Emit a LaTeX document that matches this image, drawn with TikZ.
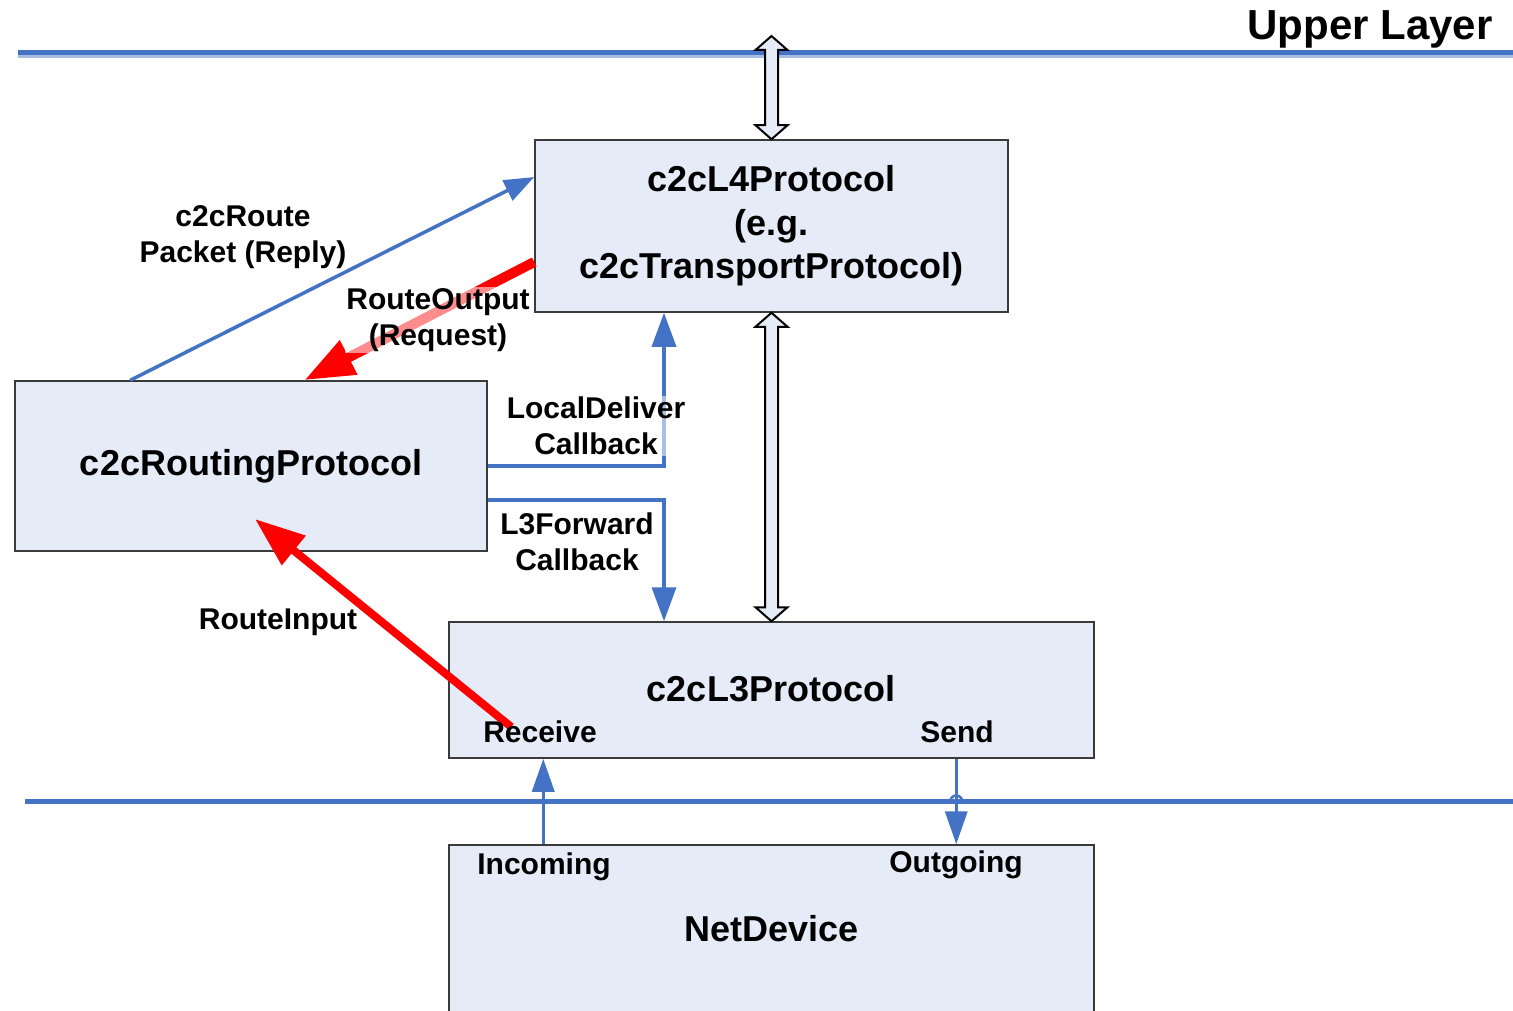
\documentclass[tikz,border=0pt]{standalone}
\usepackage{fontspec}
\setmainfont{Liberation Sans}
\usetikzlibrary{arrows.meta,calc}
\definecolor{boxfill}{HTML}{E6ECF7}
\definecolor{lineblue}{HTML}{4472C4}
\definecolor{lineblue2}{HTML}{A7BCE2}
\definecolor{boxedge}{HTML}{3A3A3A}

% hollow double-headed arrow between two points on a vertical line
\newcommand\hollowdarrow[2]{%
  \filldraw[hollow] let \p1=(#1), \p2=(#2) in
    (\x1,\y1) -- (\x1+16pt,\y1-14pt) -- (\x1+6.5pt,\y1-14pt) --
    (\x1+6.5pt,\y2+14pt) -- (\x1+16pt,\y2+14pt) -- (\x1,\y2) --
    (\x1-16pt,\y2+14pt) -- (\x1-6.5pt,\y2+14pt) --
    (\x1-6.5pt,\y1-14pt) -- (\x1-16pt,\y1-14pt) -- cycle;}

\begin{document}
\begin{tikzpicture}[x=1pt,y=-1pt,
  box/.style={draw=boxedge, line width=1.5pt, fill=boxfill, inner sep=0pt, align=center,
              font=\fontsize{36}{43.5}\selectfont\bfseries},
  lbl/.style={font=\fontsize{30}{36}\selectfont\bfseries, align=center, inner sep=1pt},
  veil/.style={lbl, fill=white, fill opacity=0.55, text opacity=1},
  hollow/.style={draw=black, line width=2pt, fill=boxfill, line join=miter},
  conn/.style={draw=lineblue, line width=3.5pt, -{Triangle[length=34pt,width=24pt]}},
  callpath/.style={draw=lineblue, line width=3.5pt, -{Triangle[length=34pt,width=24pt]}},
  redarrow/.style={draw=red, line width=#1, -{Triangle[length=50pt,width=36pt]}},
]
\clip (0,0) rectangle (1513,1011);
\fill[white] (0,0) rectangle (1513,1011);

% layer boundaries
\coordinate (ul-w) at (18,52.5);
\coordinate (ul-e) at (1513,52.5);
\draw[lineblue, line width=5pt] (ul-w) -- (ul-e);
\draw[lineblue2, line width=3pt] ([yshift=-4pt]ul-w) -- ([yshift=-4pt]ul-e);
\coordinate (ll-w) at (25,801.5);
\coordinate (ll-e) at (1513,801.5);
\draw[lineblue, line width=5pt] (ll-w) -- (ll-e);

\node[font=\fontsize{42}{50}\selectfont\bfseries, inner sep=0pt] (upper) at (1370,29) {Upper Layer};

% protocol blocks
\node[box, minimum width=473pt, minimum height=172pt] (l4) at (771.5,226)
  {c2cL4Protocol\\(e.g.\\c2cTransportProtocol)};
\node[box, minimum width=472pt, minimum height=170pt] (rp) at (251,466) {c2cRoutingProtocol};
\node[box, minimum width=645pt, minimum height=136pt] (l3) at (771.5,690) {};
\node[box, minimum width=645pt, minimum height=168pt] (nd) at (771.5,929) {NetDevice};
\node[box, draw=none, fill=none] (l3name) at (771,689) {c2cL3Protocol};

% interfaces to the upper layer and between L4 and L3
\coordinate (ul-port) at (771.5,36);
\hollowdarrow{ul-port}{l4.north}
\hollowdarrow{l4.south}{l3.north}

% routing protocol interactions
\draw[conn, -{Triangle[length=30pt,width=22pt]}] ([xshift=116pt]rp.north west) -- ([yshift=49pt]l4.west);
\draw[redarrow=10pt] ([yshift=-36pt]l4.west) -- ([xshift=290pt]rp.north west);
\draw[callpath] (rp.east) -| ([xshift=-107.5pt]l4.south);
\draw[callpath] ([yshift=-34pt]rp.east) -| ([xshift=-107.5pt]l3.north);
\coordinate (ri-start) at ([xshift=63pt,yshift=-37pt]l3.west);
\coordinate (ri-end) at ([xshift=4pt,yshift=-53pt]rp.center);
\draw[redarrow=8pt] (ri-start) -- (ri-end);

% device connections
\draw[conn, -{Triangle[length=33pt,width=22pt]}] ([xshift=95pt]nd.north west) -- ([xshift=95pt]l3.south west);
\draw[conn, -{Triangle[length=33pt,width=22pt]}] ([xshift=508pt]l3.south west) -- ([xshift=508pt]nd.north west);
\coordinate (hop) at ($([xshift=508pt]l3.south west)!0.5!([xshift=508pt]nd.north west)$);
\draw[lineblue, line width=2.5pt] ([xshift=-6pt]hop) arc[start angle=180, end angle=0, radius=6pt];

% labels
\node[lbl] (reply) at (243,237) {c2cRoute\\Packet (Reply)};
\node[veil] (request) at (438,320) {RouteOutput\\(Request)};
\node[veil] (localdel) at (596,426) {LocalDeliver\\Callback};
\node[lbl] (l3fwd) at (577,542) {L3Forward\\Callback};
\node[lbl] (routein) at (278,622) {RouteInput};
\node[lbl] (receive) at (540,732) {Receive};
\node[lbl] (send) at (957,732) {Send};
\node[lbl] (incoming) at (544,867) {Incoming};
\node[lbl] (outgoing) at (956,865) {Outgoing};
\end{tikzpicture}
\end{document}
